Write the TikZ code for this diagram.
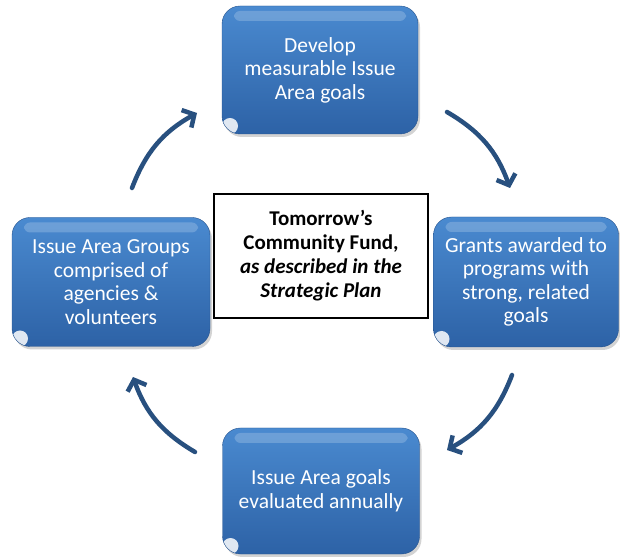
\documentclass[tikz,border=0pt]{standalone}
\usepackage{fontspec}
\setmainfont{Carlito}
\usetikzlibrary{arrows.meta,shadows}
\definecolor{boxtop}{HTML}{4A8AD0}
\definecolor{boxbot}{HTML}{2D62A6}
\definecolor{arrowblue}{HTML}{28507F}

\tikzset{
  cyclebox/.style={rectangle, rounded corners=18pt, minimum width=196pt, minimum height=128pt, inner sep=0pt,
    top color=boxtop, bottom color=boxbot, draw=boxbot!85!black, line width=0.4pt,
    drop shadow={shadow xshift=2pt, shadow yshift=-3pt, opacity=0.35},
    text=white, align=center, font=\fontsize{21.5}{23.5}\selectfont,
    path picture={
      \fill[white, opacity=0.2, rounded corners=6pt]
        ([shift={(12pt,-5pt)}]path picture bounding box.north west) rectangle
        ([shift={(-12pt,-15pt)}]path picture bounding box.north east);
      \fill[white, opacity=0.85]
        ([shift={(8pt,8pt)}]path picture bounding box.south west) circle (8pt);
    }},
  fundbox/.style={rectangle, draw=black, line width=1.3pt, fill=white, minimum width=214pt, minimum height=124pt,
    align=center, font=\fontsize{21}{24}\selectfont\bfseries},
  cyclearrow/.style={arrowblue, line width=4.5pt, line cap=round,
    -{Straight Barb[length=9pt,width=20pt]}, bend left=20}
}

\begin{document}
\begin{tikzpicture}[x=1pt, y=1pt]
	%%%%% START %%%%%
	\useasboundingbox (0,0) rectangle (620,556);
	
	\node[cyclebox] (develop) at (320,486) {Develop\\measurable Issue\\Area goals};
	\node[cyclebox, minimum width=185pt, minimum height=130pt] (grants) at (526,274) {Grants awarded to\\programs with\\strong, related\\goals};
	\node[cyclebox, minimum width=198pt, minimum height=129pt] (groups) at (111,274) {Issue Area Groups\\comprised of\\agencies \&\\volunteers};
	\node[cyclebox, minimum width=197pt, minimum height=126pt] (evaluate) at (321,65) {Issue Area goals\\evaluated annually};
	
	\node[fundbox] (fund) at (321,300) {Tomorrow’s\\Community Fund,\\\textit{as described in the}\\\textit{Strategic Plan}};
	
	\coordinate (trTail) at (447,444);
	\coordinate (trTip) at (510,368);
	\coordinate (brTail) at (512,181);
	\coordinate (brTip) at (447,106);
	\coordinate (blTail) at (195,104);
	\coordinate (blTip) at (133,179);
	\coordinate (tlTail) at (132,368);
	\coordinate (tlTip) at (197,443);
	
	\draw[cyclearrow] (trTail) to (trTip);
	\draw[cyclearrow] (brTail) to (brTip);
	\draw[cyclearrow] (blTail) to (blTip);
	\draw[cyclearrow] (tlTail) to (tlTip);
	%%%%% END %%%%%
\end{tikzpicture}
\end{document}
